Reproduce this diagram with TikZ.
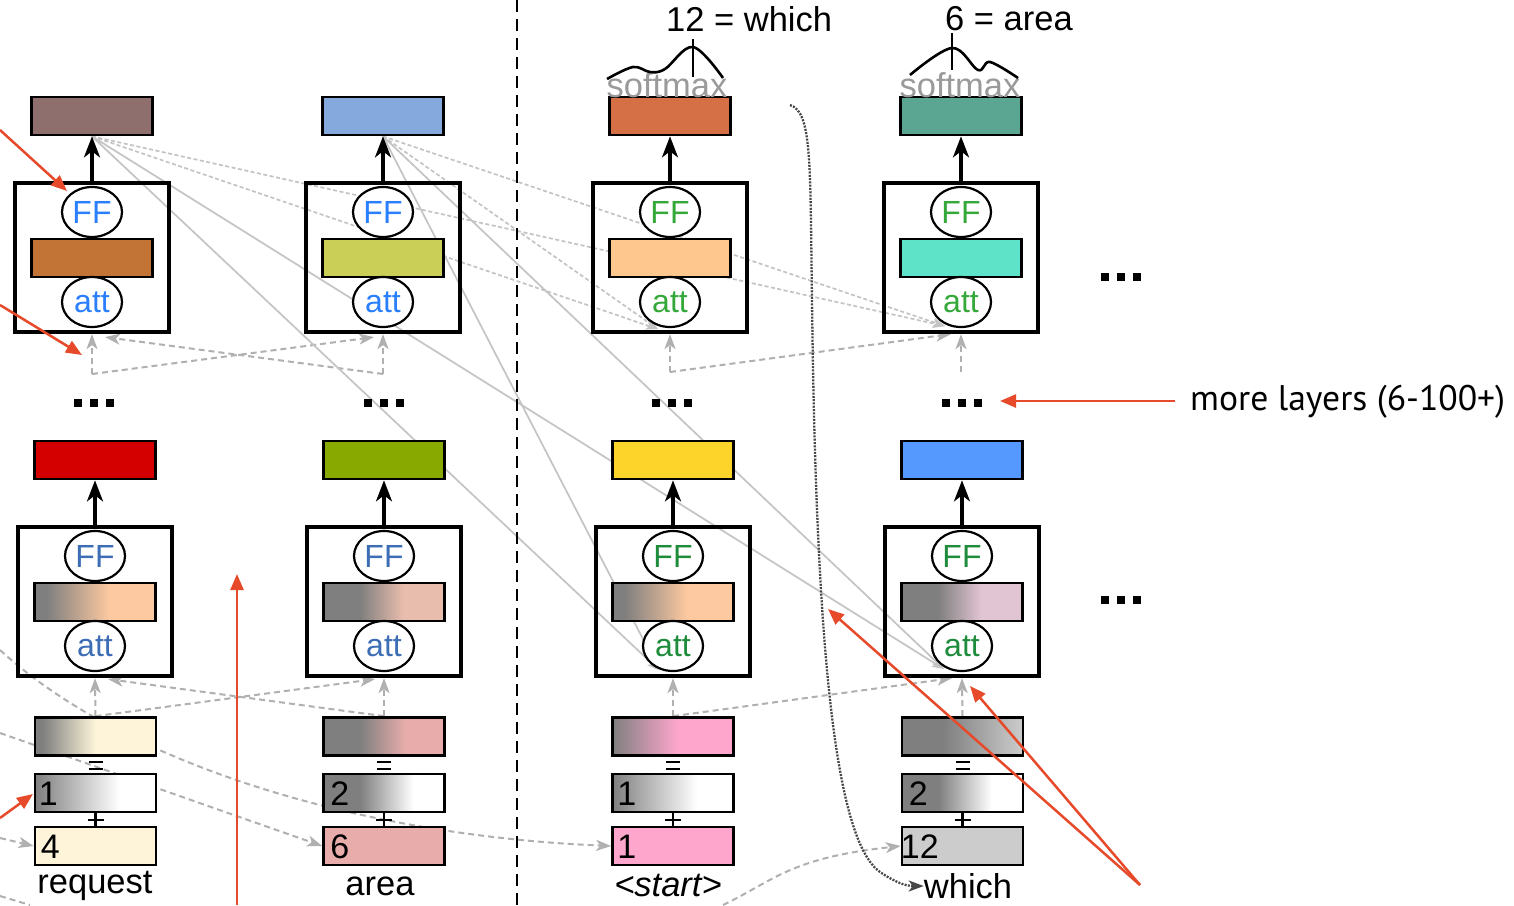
\documentclass[tikz,border=0pt]{standalone}
\usepackage{fontspec}
\setmainfont{Liberation Sans}
\newfontfamily\notefont{PT Sans}
\usetikzlibrary{arrows.meta,shapes.geometric,calc,backgrounds}

\definecolor{cTopA}{HTML}{8F6E6E}
\definecolor{cTopB}{HTML}{86A9DD}
\definecolor{cTopC}{HTML}{D56F45}
\definecolor{cTopD}{HTML}{5BA692}
\definecolor{cMidA}{HTML}{C27336}
\definecolor{cMidB}{HTML}{C9CF57}
\definecolor{cMidC}{HTML}{FEC78E}
\definecolor{cMidD}{HTML}{5EE3C8}
\definecolor{cBotA}{HTML}{D40000}
\definecolor{cBotB}{HTML}{88AA00}
\definecolor{cBotC}{HTML}{FDD42A}
\definecolor{cBotD}{HTML}{5599FF}
\definecolor{gbase}{HTML}{7F7F7F}
\definecolor{peachA}{HTML}{FDC9A0}
\definecolor{peachB}{HTML}{E9BDAD}
\definecolor{peachD}{HTML}{E2C5D3}
\definecolor{tkA}{HTML}{FDF4D9}
\definecolor{tkB}{HTML}{E8ADAB}
\definecolor{tkC}{HTML}{FEA6CC}
\definecolor{tkD}{HTML}{CCCCCC}
\definecolor{blueA}{HTML}{2A7FFF}
\definecolor{blueB}{HTML}{3D6DB5}
\definecolor{greenA}{HTML}{35A83A}
\definecolor{greenB}{HTML}{1E8C3A}
\definecolor{lgray}{HTML}{B0B0B0}
\definecolor{lgrayb}{HTML}{C4C4C4}
\definecolor{dgray}{HTML}{474747}
\definecolor{sgray}{HTML}{9A9A9A}
\definecolor{redA}{HTML}{E64A2A}

\newcommand{\mkshade}[5]{\pgfdeclarehorizontalshading{#1}{100bp}{color(0bp)=(#2); color(#4bp)=(#2); color(#5bp)=(#3); color(100bp)=(#3)}}
\mkshade{bmA}{gbase}{peachA}{30}{56}
\mkshade{bmB}{gbase}{peachB}{40}{58}
\mkshade{bmC}{gbase}{peachA}{30}{56}
\mkshade{bmD}{gbase}{peachD}{40}{58}
\mkshade{emA}{gbase}{tkA}{28}{50}
\mkshade{emB}{gbase}{tkB}{40}{59}
\mkshade{emC}{gbase}{tkC}{25}{52}
\mkshade{emD}{gbase}{tkD}{42}{75}
\mkshade{psA}{gbase}{white}{25}{60}
\mkshade{psB}{gbase}{white}{40}{62}

\newcommand{\layerblk}[6]{%
  \node[vec,#4] (#1r) at (#2,116+#3) {};
  \node[blk] (#1b) at (#2,257.5+#3) {};
  \node[vec,#5] (#1m) at (#2,258+#3) {};
  \node[ell,text=#6] (#1f) at (#2,212+#3) {FF};
  \node[ell,text=#6] (#1a) at (#2,302+#3) {att};
  \draw[blkarrow] (#1b) -- (#1r);
}
\newcommand{\sqdots}{\rule{8pt}{8pt}\hspace{8pt}\rule{8pt}{8pt}\hspace{8pt}\rule{8pt}{8pt}}

\begin{document}
\begin{tikzpicture}[x=1pt,y=-1pt,
  vec/.style={rectangle,draw=black,line width=2.7pt,minimum width=121pt,minimum height=38pt,inner sep=0pt},
  blk/.style={rectangle,draw=black,line width=3.2pt,minimum width=154pt,minimum height=149pt,inner sep=0pt},
  ell/.style={ellipse,draw=black,line width=2.2pt,fill=white,minimum width=60pt,minimum height=50pt,inner sep=0pt,font=\fontsize{32}{32}\selectfont},
  lbl/.style={inner sep=0pt,font=\fontsize{34.5}{36}\selectfont},
  num/.style={anchor=west,inner sep=0pt,font=\fontsize{34}{34}\selectfont},
  smx/.style={inner sep=0pt,text=sgray,font=\fontsize{34.5}{34.5}\selectfont},
  blkarrow/.style={line width=3.2pt,-{Stealth[length=21pt,width=16pt,inset=6pt]}},
  selfatt/.style={draw=lgray,line width=2pt,dash pattern=on 6pt off 4pt,-{Stealth[length=15pt,width=11pt,inset=4pt]}},
  xatt/.style={draw=lgrayb,line width=1.7pt,dash pattern=on 4pt off 2.5pt,-{Stealth[length=12pt,width=9pt,inset=3pt]}},
  xsolid/.style={draw=lgrayb,line width=1.7pt,-{Stealth[length=12pt,width=9pt,inset=3pt]}},
  tokline/.style={draw=lgray,line width=2pt,dash pattern=on 6pt off 4pt},
  tokarr/.style={tokline,-{Stealth[length=15pt,width=11pt,inset=4pt]}},
  redarr/.style={draw=redA,line width=2.5pt,-{Triangle[length=16pt,width=13pt]}},
  sgn/.style={line width=2.2pt},
  curv/.style={line width=2.6pt,line join=round}
]
\useasboundingbox (0,0) rectangle (1514,905);

% ---------- layers ----------
\layerblk{ta}{92}{0}{fill=cTopA}{fill=cMidA}{blueA}
\layerblk{tb}{383}{0}{fill=cTopB}{fill=cMidB}{blueA}
\layerblk{tc}{670}{0}{fill=cTopC}{fill=cMidC}{greenA}
\layerblk{td}{961}{0}{fill=cTopD}{fill=cMidD}{greenA}
\layerblk{ua}{95}{344}{fill=cBotA}{shade,shading=bmA}{blueB}
\layerblk{ub}{384}{344}{fill=cBotB}{shade,shading=bmB}{blueB}
\layerblk{uc}{673}{344}{fill=cBotC}{shade,shading=bmC}{greenB}
\layerblk{ud}{962}{344}{fill=cBotD}{shade,shading=bmD}{greenB}

% ---------- embeddings ----------
\node[vec,shade,shading=emA] (ea) at (95.5,736.5) {};
\node[vec,shade,shading=psA] (pa) at (95.5,793) {};
\node[vec,fill=tkA] (ka) at (95.5,846) {};
\node[vec,shade,shading=emB] (eb) at (384,736.5) {};
\node[vec,shade,shading=psB] (pb) at (384,793) {};
\node[vec,fill=tkB] (kb) at (384,846) {};
\node[vec,shade,shading=emC] (ec) at (673,736.5) {};
\node[vec,shade,shading=psA] (pc) at (673,793) {};
\node[vec,fill=tkC] (kc) at (673,846) {};
\node[vec,shade,shading=emD] (ed) at (962.5,736.5) {};
\node[vec,shade,shading=psB] (pd) at (962.5,793) {};
\node[vec,fill=tkD] (kd) at (962.5,846) {};

\node[num] (pan) at ($(pa.west)+(5,1)$) {1};
\node[num] (kan) at ($(ka.west)+(7,1)$) {4};
\node[num] (pbn) at ($(pb.west)+(8,1)$) {2};
\node[num] (kbn) at ($(kb.west)+(8,1)$) {6};
\node[num] (pcn) at ($(pc.west)+(6,1)$) {1};
\node[num] (kcn) at ($(kc.west)+(6,1)$) {1};
\node[num] (pdn) at ($(pd.west)+(8,1)$) {2};
\node[num] (kdn) at ($(kd.west)+(0,1)$) {12};

\foreach \e/\p/\k in {ea/pa/ka,eb/pb/kb,ec/pc/kc,ed/pd/kd}{
  \draw[sgn] ($(\e.south)+(-7,5)$) -- ($(\e.south)+(7,5)$)
             ($(\e.south)+(-7,12)$) -- ($(\e.south)+(7,12)$);
  \draw[sgn] (\p) -- (\k);
  \draw[sgn] ($(\p.south)+(-8,7)$) -- ($(\p.south)+(8,7)$);
}

% ---------- labels ----------
\node[lbl] (la) at (95,886) {request};
\node[lbl] (lb) at (380,886) {area};
\node[lbl] (lc) at (668,886) {\itshape <start>};
\node[lbl] (ld) at (968,886) {which};
\node[lbl,anchor=west] (oc) at (666,19) {12 = which};
\node[lbl,anchor=west] (od) at (945,19) {6 = area};
\node[smx] (sc) at (667,85) {softmax};
\node[smx] (sd) at (960,85) {softmax};

% dots
\node[inner sep=0pt] (da) at (94,403) {\sqdots};
\node[inner sep=0pt] (db) at (384,403) {\sqdots};
\node[inner sep=0pt] (dc) at (672,403) {\sqdots};
\node[inner sep=0pt] (dd) at (962,403) {\sqdots};
\node[inner sep=0pt] (dr1) at (1121,277) {\sqdots};
\node[inner sep=0pt] (dr2) at (1121,600) {\sqdots};

\node[anchor=west,inner sep=0pt,font=\notefont\fontsize{35.6}{35.6}\selectfont] (ml) at (1190,402) {more layers (6-100+)};

% softmax curves
\draw[curv] plot[smooth,tension=0.6] coordinates {(607,79) (633,67) (650,72) (665,69) (693,47) (723,78)};
\draw[curv] (693,39) -- (693,77);
\draw[curv] plot[smooth,tension=0.6] coordinates {(910,75) (952,48) (978,70) (990,62) (1018,78)};
\draw[curv] (952,33) -- (952,70);

% ---------- background connectors ----------
\begin{pgfonlayer}{background}
\fill[white] (0,0) rectangle (1514,905);
\coordinate (sa) at (92,374);
\coordinate (sb) at (383,374);
\coordinate (sc2) at (670,372);
\coordinate (sd2) at (961,372);
% top layer self attention
\draw[selfatt] (sa) -- ($(taa.south)+(0,6)$);
\draw[selfatt] (sa) -- ($(tba.south)+(-9,9)$);
\draw[selfatt] (sb) -- ($(taa.south)+(13,9)$);
\draw[selfatt] (sb) -- ($(tba.south)+(0,6)$);
\draw[selfatt] (sc2) -- ($(tca.south)+(0,6)$);
\draw[selfatt] (sc2) -- ($(tda.south)+(-10,6)$);
\draw[selfatt] (sd2) -- ($(tda.south)+(0,6)$);
% bottom layer self attention
\draw[selfatt] (ea.north) -- ($(uaa.south)+(0,6)$);
\draw[selfatt] (ea.north) -- ($(uba.south)+(-9,7)$);
\draw[selfatt] (eb.north) -- ($(uaa.south)+(13,7)$);
\draw[selfatt] (eb.north) -- ($(uba.south)+(0,6)$);
\draw[selfatt] (ec.north) -- ($(uca.south)+(0,6)$);
\draw[selfatt] (ec.north) -- ($(uda.south)+(-10,6)$);
\draw[selfatt] (ed.north) -- ($(uda.south)+(0,6)$);
% cross attention from encoder outputs
\foreach \s in {tar,tbr}{
  \draw[xatt] (\s.south) -- ($(tca.south)+(-12,1)$);
  \draw[xatt] (\s.south) -- ($(tda.south)+(-16,-2)$);
  \draw[xsolid] (\s.south) -- ($(uca.south)+(-14,-2)$);
  \draw[xsolid] (\s.south) -- ($(uda.south)+(-18,-3)$);
}
% token lookups
\coordinate (ta0) at (0,838);
\coordinate (tb0) at (0,733);
\coordinate (tc0) at (0,650);
\coordinate (te0) at (0,896);
\coordinate (te1) at (30,905);
\draw[tokarr] (ta0) -- (ka.west);
\draw[tokarr] (tb0) -- (kb.west);
\draw[tokarr] (tc0) .. controls (120,760) and (350,835) .. (kc.west);
\draw[tokline] (te0) -- (te1);
\coordinate (wb) at (723,905);
\draw[tokarr] (wb) .. controls (775,880) and (790,858) .. (kd.west);
\coordinate (wt) at (790,105);
\coordinate (wm) at (812,300);
\draw[draw=dgray,line width=2.3pt,dash pattern=on 2pt off 1.3pt,-{Stealth[length=15pt,width=11pt,inset=4pt]}]
  (wt) .. controls (812,112) and (810,160) .. (wm)
  .. controls (816,650) and (835,840) .. (880,872)
  .. controls (895,882) and (905,886) .. (ld.west);
\end{pgfonlayer}

% divider
\coordinate (dv0) at (517,0);
\coordinate (dv1) at (517,905);
\draw[line width=2.5pt,dash pattern=on 12pt off 7pt] (dv0) -- (dv1);

% ---------- red annotations ----------
\coordinate (r1s) at (0,130);   \coordinate (r1e) at (67,191);
\coordinate (r2s) at (0,305);   \coordinate (r2e) at (82,355);
\coordinate (r3s) at (0,818);   \coordinate (r3e) at (33,794);
\coordinate (r4s) at (237,905); \coordinate (r4e) at (237,574);
\coordinate (r5s) at (1175,401);\coordinate (r5e) at (1000,401);
\coordinate (r6s) at (1140,885);\coordinate (r6e) at (828,609);
\coordinate (r7e) at (970,686);
\draw[redarr] (r1s) -- (r1e);
\draw[redarr] (r2s) -- (r2e);
\draw[redarr] (r3s) -- (r3e);
\draw[redarr] (r4s) -- (r4e);
\draw[redarr] (r5s) -- (r5e);
\draw[redarr] (r6s) -- (r6e);
\draw[redarr] (r6s) -- (r7e);
\end{tikzpicture}
\end{document}
